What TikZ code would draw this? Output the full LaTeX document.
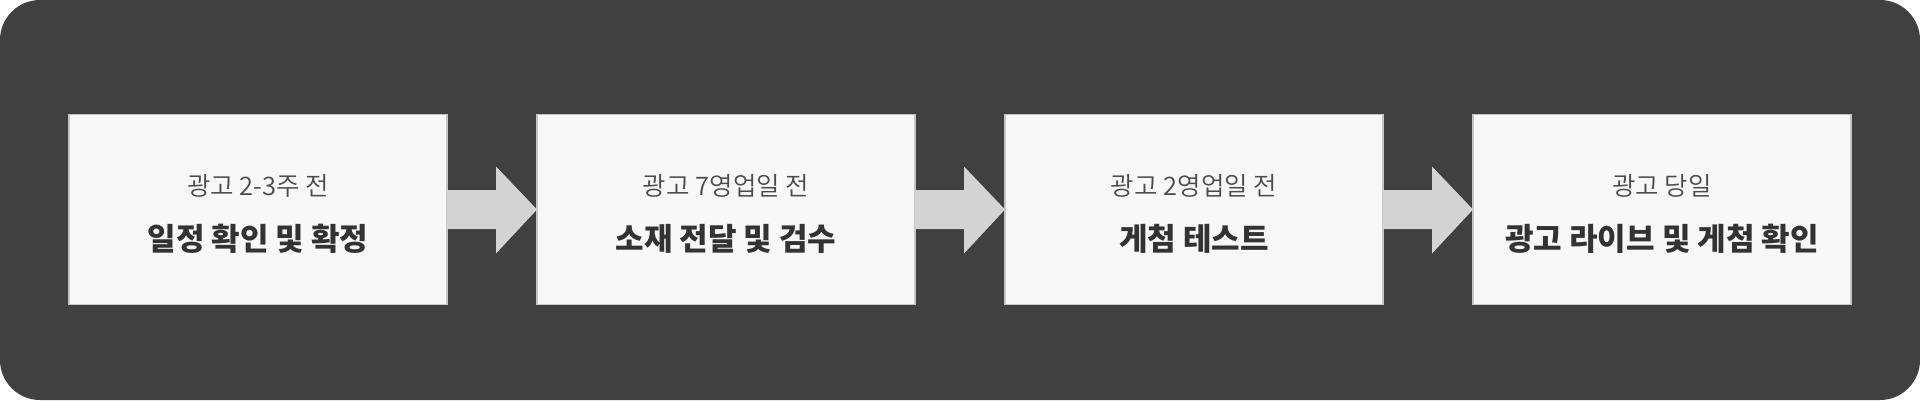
\documentclass[tikz,border=0pt]{standalone}
\usepackage{fontspec}
\setmainfont{Noto Sans CJK KR}
\newfontfamily\subweight{Noto Sans CJK KR}[UprightFont={* DemiLight}]
\usetikzlibrary{calc}
\definecolor{bgdark}{HTML}{404040}
\definecolor{boxfill}{HTML}{F8F8F8}
\definecolor{boxline}{HTML}{C6C6C6}
\definecolor{arrowfill}{HTML}{D3D3D3}
\definecolor{subtext}{HTML}{4A4A4A}
\definecolor{titletext}{HTML}{333333}
\tikzset{
  stepbox/.style={draw=boxline, line width=1.6pt, fill=boxfill, minimum width=378pt, minimum height=190pt, inner sep=0pt, outer sep=0pt},
  subline/.style={text=subtext, font=\subweight\fontsize{25.5}{30}\selectfont, inner sep=0pt},
  titleline/.style={text=titletext, font=\bfseries\fontsize{31}{36}\selectfont, inner sep=0pt},
  flowarrow/.style={fill=arrowfill, draw=none}
}
\begin{document}
\begin{tikzpicture}[x=1pt,y=-1pt]
\fill[bgdark, rounded corners=40pt] (0,0) rectangle (1920,400);
\useasboundingbox (0,0) rectangle (1920,400);
\foreach \i/\cx in {1/258,2/726,3/1194,4/1662}{
  \node[stepbox] (b\i) at (\cx,209.5) {};
}
\node[subline] (s1) at (258,185.5) {광고 2-3주 전};
\node[titleline] (t1) at (258,238.5) {일정 확인 및 확정};
\node[subline] (s2) at (726,185.5) {광고 7영업일 전};
\node[titleline] (t2) at (726,238.5) {소재 전달 및 검수};
\node[subline] (s3) at (1194,185.5) {광고 2영업일 전};
\node[titleline] (t3) at (1194,238.5) {게첨 테스트};
\node[subline] (s4) at (1662,185.5) {광고 당일};
\node[titleline] (t4) at (1662,238.5) {광고 라이브 및 게첨 확인};
\foreach \a/\b in {1/2,2/3,3/4}{
  \fill[flowarrow] ($(b\a.east)+(0,-19.5)$) -- ($(b\a.east)+(49,-19.5)$) -- ($(b\a.east)+(49,-43)$) -- (b\b.west) -- ($(b\a.east)+(49,44)$) -- ($(b\a.east)+(49,19.5)$) -- ($(b\a.east)+(0,19.5)$) -- cycle;
}
\end{tikzpicture}
\end{document}
